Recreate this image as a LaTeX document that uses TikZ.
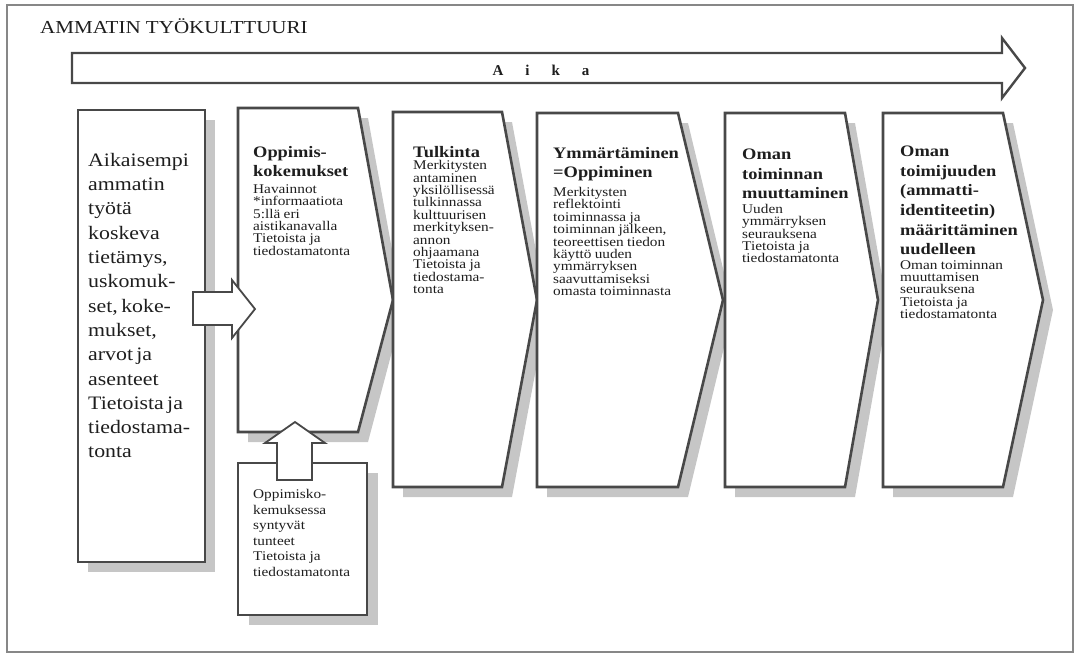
\documentclass[tikz,border=0pt]{standalone}
\usepackage{fontspec}
\setmainfont{Liberation Serif}
\newfontfamily\scanserif[FakeStretch=1.15]{Liberation Serif}
\definecolor{framegray}{RGB}{135,135,135}
\definecolor{boxgray}{RGB}{72,72,72}
\definecolor{shadegray}{RGB}{198,198,198}
\definecolor{inkgray}{RGB}{30,30,30}
\newcommand{\bigtext}{\scanserif\fontsize{19}{24.3}\selectfont}
\newcommand{\headtext}{\scanserif\bfseries\fontsize{16}{19.6}\selectfont}
\newcommand{\smalltext}{\scanserif\fontsize{13.3}{12.4}\selectfont}
\tikzset{
  box/.style={draw=boxgray, line width=2.6pt, fill=white, line join=miter},
  shade/.style={fill=shadegray},
  blockarrow/.style={draw=boxgray, line width=1.8pt, fill=white, line join=miter},
  txt/.style={anchor=north west, inner sep=0pt, align=left, text=inkgray},
}

\begin{document}
\begin{tikzpicture}[x=1pt,y=-1pt]
    \useasboundingbox (0,0) rectangle (1080,654);
    \draw[framegray, line width=1.6pt] (7,5) rectangle (1073,652);
    \node[anchor=base west, inner sep=0pt, text=inkgray, font=\scanserif\fontsize{18.3}{22}\selectfont] (title) at (40,33) {AMMATIN TYÖKULTTUURI};

    % time arrow
    \draw[box, line width=2.4pt] (72,53) -- (1002,53) -- (1002,38) -- (1025,68) -- (1002,98) -- (1002,83) -- (72,83) -- cycle;
    \node[anchor=base, inner sep=0pt, text=inkgray, font=\bfseries\fontsize{15}{17}\selectfont] (time) at (541,75) {A\hspace{22pt}i\hspace{22pt}k\hspace{22pt}a};

    % shadows and boxes
    \fill[shade, shift={(10,10)}] (78,110) rectangle (205,562);
    \draw[box] (78,110) rectangle (205,562);
    \fill[shade, shift={(10,10)}] (238,108) -- (358,108) -- (393,300) -- (358,432) -- (238,432) -- cycle;
    \draw[box] (238,108) -- (358,108) -- (393,300) -- (358,432) -- (238,432) -- cycle;
    \fill[shade, shift={(10,10)}] (393,112) -- (502,112) -- (537,300) -- (502,487) -- (393,487) -- cycle;
    \draw[box] (393,112) -- (502,112) -- (537,300) -- (502,487) -- (393,487) -- cycle;
    \fill[shade, shift={(10,10)}] (537,113) -- (678,113) -- (723,300) -- (678,487) -- (537,487) -- cycle;
    \draw[box] (537,113) -- (678,113) -- (723,300) -- (678,487) -- (537,487) -- cycle;
    \fill[shade, shift={(10,10)}] (725,113) -- (845,113) -- (878,300) -- (845,487) -- (725,487) -- cycle;
    \draw[box] (725,113) -- (845,113) -- (878,300) -- (845,487) -- (725,487) -- cycle;
    \fill[shade, shift={(10,10)}] (883,113) -- (1003,113) -- (1043,300) -- (1003,487) -- (883,487) -- cycle;
    \draw[box] (883,113) -- (1003,113) -- (1043,300) -- (1003,487) -- (883,487) -- cycle;
    \fill[shade, shift={(11,10)}] (238,463) rectangle (367,615);
    \draw[box] (238,463) rectangle (367,615);

    % block arrows
    \draw[blockarrow] (193,292) -- (232,292) -- (232,280) -- (255,309) -- (232,338) -- (232,325) -- (193,325) -- cycle;
    \draw[blockarrow] (277,480) -- (277,443) -- (265,443) -- (295,422) -- (325,443) -- (312,443) -- (312,480) -- cycle;

    % texts
    \node[txt, text width=115pt] (prior) at (88,153) {\bigtext Aikaisempi\\ammatin\\työtä\\koskeva\\tietämys,\\uskomuk-\\set, koke-\\mukset,\\arvot ja\\asenteet\\Tietoista ja\\tiedostama-\\tonta\par};
    \node[txt, text width=130pt] (exp) at (253,146) {{\headtext Oppimis-\\kokemukset\par}\vspace{4pt}\smalltext Havainnot\\{}*informaatiota\\5:llä eri\\aistikanavalla\\Tietoista ja\\tiedostamatonta\par};
    \node[txt, text width=120pt] (interp) at (413,146) {{\headtext Tulkinta\par}\vspace{0pt}\smalltext Merkitysten\\antaminen\\yksilöllisessä\\tulkinnassa\\kulttuurisen\\merkityksen-\\annon\\ohjaamana\\Tietoista ja\\tiedostama-\\tonta\par};
    \node[txt, text width=140pt] (underst) at (553,147) {{\headtext Ymmärtäminen\\=Oppiminen\par}\vspace{5pt}\smalltext Merkitysten\\reflektointi\\toiminnassa ja\\toiminnan jälkeen,\\teoreettisen tiedon\\käyttö uuden\\ymmärryksen\\saavuttamiseksi\\omasta toiminnasta\par};
    \node[txt, text width=130pt] (change) at (742,149) {{\headtext Oman\\toiminnan\\muuttaminen\par}\vspace{2pt}\smalltext Uuden\\ymmärryksen\\seurauksena\\Tietoista ja\\tiedostamatonta\par};
    \node[txt, text width=130pt] (ident) at (900,146) {{\headtext Oman\\toimijuuden\\(ammatti-\\identiteetin)\\määrittäminen\\uudelleen\par}\vspace{2pt}\smalltext Oman toiminnan\\muuttamisen\\seurauksena\\Tietoista ja\\tiedostamatonta\par};
    \node[txt, text width=110pt] (feel) at (253,489) {\scanserif\fontsize{13.3}{15.6}\selectfont Oppimisko-\\kemuksessa\\syntyvät\\tunteet\\Tietoista ja\\tiedostamatonta\par};

\end{tikzpicture}
\end{document}
